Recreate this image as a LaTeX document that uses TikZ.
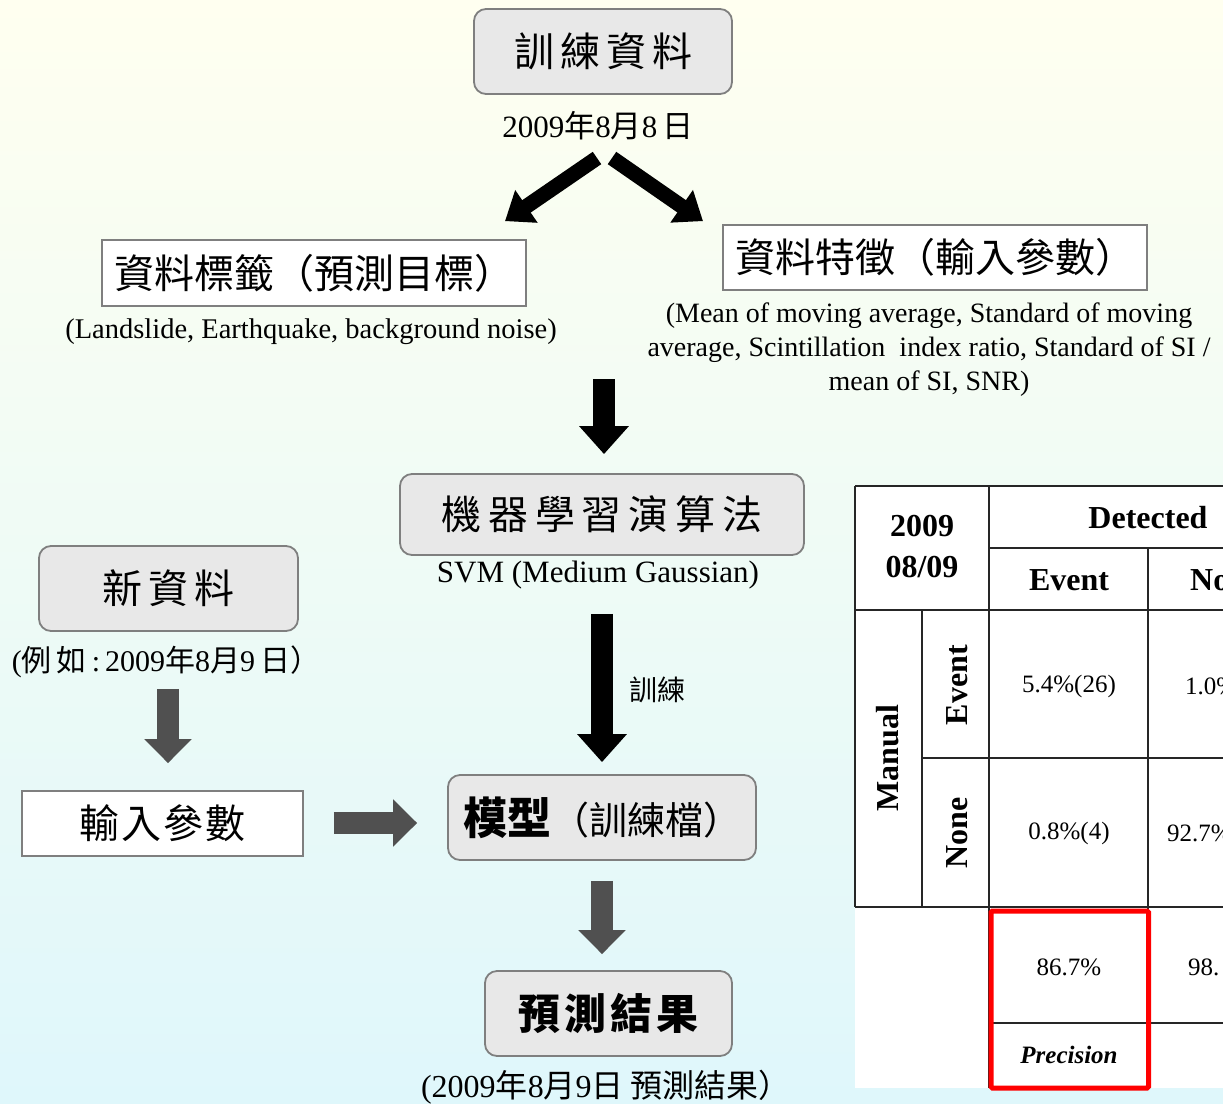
\documentclass[tikz,border=0pt]{standalone}
\usepackage{fontspec}
\setmainfont{Liberation Serif}
\newfontfamily\cjk{Noto Sans CJK TC}
\newfontfamily\cjkwide[LetterSpace=15]{Noto Sans CJK TC}
\newfontfamily\cjkwider[LetterSpace=17]{Noto Sans CJK TC}
\newfontfamily\cjkpred[LetterSpace=10]{Noto Sans CJK TC}
\newfontfamily\cjkmid[LetterSpace=5]{Noto Sans CJK TC}
\usetikzlibrary{arrows.meta,calc}
\definecolor{boxgray}{HTML}{E8E8E8}
\definecolor{edgegray}{HTML}{7F7F7F}
\definecolor{arrgray}{HTML}{505050}
\definecolor{bgtop}{HTML}{FFFFF0}
\definecolor{bgbot}{HTML}{DFF7FB}
\definecolor{tablecol}{HTML}{262626}
\definecolor{hired}{HTML}{FF0000}
\newcommand\setfs[2]{\fontsize{#1}{#2}\selectfont}
\tikzset{
 rbox/.style={draw=edgegray, line width=1.8pt, fill=boxgray, rounded corners=12pt, inner sep=0pt},
 wbox/.style={draw=edgegray, line width=1.8pt, fill=white, inner sep=0pt},
 txt/.style={inner sep=0pt, align=center},
 blkarrow/.style={draw=black, line width=22pt, -{Triangle[length=28pt,width=48pt]}},
 grayarrow/.style={draw=arrgray, line width=22pt, -{Triangle[length=24pt,width=46pt]}},
 diagarrow/.style={draw=black, line width=15pt, -{Triangle[length=26pt,width=38pt]}},
 tline/.style={draw=tablecol, line width=1.5pt},
 thead/.style={font=\bfseries\setfs{32}{40}, inner sep=0pt},
 tcell/.style={font=\setfs{25}{30}, inner sep=0pt},
}
\begin{document}
\begin{tikzpicture}[x=1pt,y=-1pt]
\useasboundingbox (0,0) rectangle (1223,1103);
\clip (0,0) rectangle (1223,1103);
\shade[top color=bgtop, bottom color=bgbot] (0,0) rectangle (1223,1103);

% flow boxes
\node[rbox, minimum width=258pt, minimum height=85pt] (train) at (603,51.5) {\cjkwide\setfs{40}{48}訓練資料};
\node[txt, font=\setfs{31}{36}] (date8) at (598,126) {2009{\cjk 年}8{\cjk 月}8\,{\cjk 日}};
\node[wbox, minimum width=424pt, minimum height=66pt] (label) at (314,273) {\cjk\setfs{40}{48}資料標籤（預測目標）};
\node[txt, font=\setfs{28.5}{32}] (labeltxt) at (311,332) {(Landslide, Earthquake, background noise)};
\node[wbox, minimum width=424pt, minimum height=65pt] (feat) at (935,257.5) {\cjk\setfs{40}{48}資料特徵（輸入參數）};
\node[txt, font=\setfs{28}{34}] (feattxt) at (929,350) {(Mean of moving average, Standard of moving\\average,\ Scintillation\ \ index ratio, Standard of SI /\\mean of SI, SNR)};
\node[rbox, minimum width=404pt, minimum height=81pt] (ml) at (602,514.5) {\cjkwider\setfs{40}{48}機器學習演算法};
\node[txt, font=\setfs{31}{36}] (svm) at (598,575) {SVM (Medium Gaussian)};
\node[txt, font=\cjk\setfs{28}{34}] (trainlbl) at (657,690) {訓練};
\node[rbox, minimum width=308pt, minimum height=85pt] (model) at (602,817.5) {{\cjk\bfseries\setfs{44}{48}模型}{\cjk\setfs{38}{48}（訓練檔）}};
\node[rbox, minimum width=247pt, minimum height=85pt] (pred) at (608.5,1013.5) {\cjkpred\bfseries\setfs{42}{48}預測結果};
\node[txt, font=\setfs{32}{36}] (predtxt) at (606,1087) {(2009{\cjk 年}8{\cjk 月}9{\cjk 日 預測結果）}};
\node[rbox, minimum width=259pt, minimum height=85pt] (newd) at (168.5,588.5) {\cjkwide\setfs{40}{48}新資料};
\node[txt, font=\setfs{30}{36}] (eg) at (166,662) {({\cjk 例\,如}\,:\,2009{\cjk 年}8{\cjk 月}9\,{\cjk 日）}};
\node[wbox, minimum width=281pt, minimum height=65pt] (inp) at (162.5,823.5) {\cjkmid\setfs{40}{48}輸入參數};

% arrows
\draw[diagarrow] ($(date8)+(-1,32)$) -- ($(label.north)+(191,-18)$);
\draw[diagarrow] ($(date8)+(14,32)$) -- ($(feat.north)+(-232,-3)$);
\draw[blkarrow] ($(ml.north)+(2,-94)$) -- ($(ml.north)+(2,-19)$);
\draw[blkarrow] ($(ml.south)+(0,58)$) -- ($(model.north)+(0,-12)$);
\draw[grayarrow] ($(model.south)+(0,20)$) -- ($(pred.north)+(-6.5,-16)$);
\draw[grayarrow] ($(newd.south)+(-0.5,57)$) -- ($(inp.north)+(5.5,-27)$);
\draw[grayarrow] ($(inp.east)+(30,-0.5)$) -- ($(model.west)+(-30,5.5)$);

% table
\fill[white] (855,486) rectangle (1223,1088);
\draw[tline] (855,486) -- (1223,486);
\draw[tline] (855,486) -- (855,907);
\draw[tline] (922,610) -- (922,907);
\draw[tline] (989,486) -- (989,1088);
\draw[tline] (1148,548) -- (1148,1088);
\draw[tline] (989,548) -- (1223,548);
\draw[tline] (855,610) -- (1223,610);
\draw[tline] (922,758) -- (1223,758);
\draw[tline] (855,907) -- (1223,907);
\draw[tline] (989,1023) -- (1223,1023);

\node[thead, align=center, font=\bfseries\setfs{32}{41}] (tdate) at (922,547) {2009\\08/09};
\node[thead] (tdet) at (1148,518) {Detected};
\node[thead] (thev) at (1069,580) {Event};
\node[thead, anchor=west] (thno) at (1190,580) {No};
\node[thead, rotate=90] (tman) at (888,758) {Manual};
\node[thead, rotate=90] (trev) at (957,685) {Event};
\node[thead, rotate=90] (trno) at (957,833) {None};
\node[tcell] (c11) at (1069,686) {5.4\%(26)};
\node[tcell, anchor=west] (c12) at (1185,686) {1.0\%};
\node[tcell] (c21) at (1069,833) {0.8\%(4)};
\node[tcell, anchor=west] (c22) at (1167,833) {92.7\%};
\node[tcell] (p1) at (1069,967) {86.7\%};
\node[tcell, anchor=west] (p2) at (1188,967) {98.};
\node[tcell, font=\bfseries\itshape\setfs{25}{30}] (prec) at (1069,1055) {Precision};
\draw[hired, line width=5pt, rounded corners=1.5pt] (991,911) rectangle (1148.5,1088);
\end{tikzpicture}
\end{document}
